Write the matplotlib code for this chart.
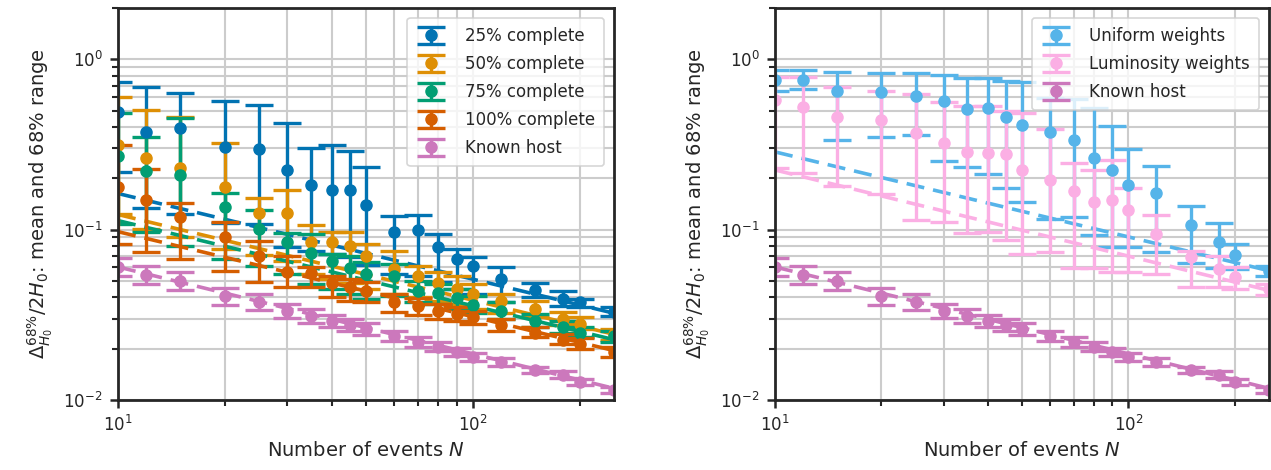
import numpy as np
import matplotlib
matplotlib.use("Agg")
import matplotlib.pyplot as plt

# ---------------- data ----------------
N = [10, 12, 15, 20, 25, 30, 35, 40, 45, 50, 60, 70, 80, 90, 100, 120, 150, 180, 200, 250]

# left panel: catalogue completeness
c25_mean = [0.490, 0.373, 0.396, 0.307, 0.299, 0.224, 0.183, 0.171, 0.171, 0.139,
            0.0969, 0.0990, 0.0790, 0.0668, 0.0615, 0.0513, 0.0443, 0.0394, 0.0375, 0.0329]
c25_lo = [0.217, 0.134, 0.123, 0.110, 0.1075, 0.0793, 0.0751, 0.0721, 0.0692, 0.0621,
          0.0549, 0.0537, 0.0492, 0.0448, 0.0418, 0.0375, 0.0401, 0.0357, 0.0350, 0.0310]
c25_hi = [0.731, 0.683, 0.638, 0.570, 0.540, 0.424, 0.302, 0.315, 0.291, 0.232,
          0.1205, 0.1216, 0.0947, 0.0765, 0.0690, 0.0602, 0.0486, 0.0437, 0.0391, 0.0350]

c50_mean = [0.315, 0.263, 0.230, 0.177, 0.126, 0.126, 0.0849, 0.0849, 0.0804, 0.0702,
            0.0588, 0.0534, 0.0486, 0.0448, 0.0418, 0.0380, 0.0341, 0.0297, 0.0278, 0.0243]
c50_lo = [0.123, 0.1014, 0.0910, 0.0772, 0.0711, 0.0656, 0.0549, 0.0513, 0.0486, 0.0448,
          0.0418, 0.0401, 0.0380, 0.0365, 0.0341, 0.0323, 0.0306, 0.0274, 0.0260, 0.0226]
c50_hi = [0.604, 0.506, 0.460, 0.323, 0.153, 0.170, 0.106, 0.0973, 0.0973, 0.0826,
          0.0751, 0.0612, 0.0564, 0.0534, 0.0479, 0.0418, 0.0380, 0.0327, 0.0306, 0.0260]

c75_mean = [0.270, 0.220, 0.209, 0.135, 0.1014, 0.0849, 0.0731, 0.0656, 0.0596, 0.0549,
            0.0534, 0.0436, 0.0424, 0.0396, 0.0360, 0.0332, 0.0290, 0.0267, 0.0249, 0.0236]
c75_lo = [0.1086, 0.0973, 0.0804, 0.0674, 0.0612, 0.0549, 0.0479, 0.0448, 0.0418, 0.0391,
          0.0407, 0.0375, 0.0365, 0.0341, 0.0323, 0.0297, 0.0267, 0.0249, 0.0233, 0.0220]
c75_hi = [0.486, 0.350, 0.454, 0.163, 0.131, 0.0960, 0.0947, 0.0721, 0.0702, 0.0647,
          0.0629, 0.0499, 0.0479, 0.0448, 0.0407, 0.0375, 0.0318, 0.0290, 0.0270, 0.0253]

c100_mean = [0.177, 0.149, 0.1194, 0.0910, 0.0702, 0.0564, 0.0557, 0.0486, 0.0460, 0.0436,
             0.0375, 0.0355, 0.0332, 0.0318, 0.0306, 0.0274, 0.0249, 0.0226, 0.0214, 0.0192]
c100_lo = [0.0826, 0.0741, 0.0674, 0.0572, 0.0492, 0.0460, 0.0460, 0.0401, 0.0380, 0.0375,
           0.0327, 0.0314, 0.0297, 0.0290, 0.0278, 0.0253, 0.0233, 0.0212, 0.0200, 0.0180]
c100_hi = [0.314, 0.2265, 0.1425, 0.1115, 0.0861, 0.0702, 0.0604, 0.0534, 0.0513, 0.0492,
           0.0418, 0.0396, 0.0365, 0.0350, 0.0332, 0.0297, 0.0267, 0.0243, 0.0230, 0.0206]

host_mean = [0.0604, 0.0542, 0.0499, 0.0407, 0.0375, 0.0332, 0.0310, 0.0290, 0.0274, 0.0260,
             0.0236, 0.0220, 0.0206, 0.0192, 0.0180, 0.0168, 0.0151, 0.0141, 0.0128, 0.0115]
host_lo = [0.0534, 0.0479, 0.0441, 0.0362, 0.0336, 0.0302, 0.0282, 0.0267, 0.0253, 0.0240,
           0.0221, 0.0206, 0.0193, 0.0182, 0.0170, 0.0159, 0.0145, 0.0135, 0.0123, 0.0110]
host_hi = [0.0683, 0.0613, 0.0564, 0.0457, 0.0418, 0.0365, 0.0341, 0.0315, 0.0297, 0.0282,
           0.0253, 0.0235, 0.0220, 0.0203, 0.0190, 0.0177, 0.0157, 0.0147, 0.0133, 0.0120]

# right panel: galaxy weighting
uni_mean = [0.754, 0.754, 0.653, 0.640, 0.612, 0.570, 0.513, 0.515, 0.460, 0.414,
            0.375, 0.338, 0.263, 0.224, 0.183, 0.163, 0.106, 0.0846, 0.0711, 0.0574]
uni_lo = [0.653, 0.667, 0.336, 0.352, 0.357, 0.252, 0.232, 0.2115, 0.1766, 0.146,
          0.1162, 0.1194, 0.0925, 0.0796, 0.0796, 0.0738, 0.0638, 0.0596, 0.0588, 0.0537]
uni_hi = [0.869, 0.869, 0.846, 0.834, 0.826, 0.812, 0.772, 0.772, 0.748, 0.731,
          0.596, 0.582, 0.515, 0.405, 0.299, 0.235, 0.1374, 0.1096, 0.0826, 0.0615]

lum_mean = [0.574, 0.525, 0.458, 0.441, 0.370, 0.323, 0.284, 0.283, 0.279, 0.224,
            0.196, 0.1694, 0.146, 0.149, 0.130, 0.0938, 0.0690, 0.0588, 0.0525, 0.0448]
lum_lo = [0.230, 0.2145, 0.1797, 0.161, 0.114, 0.111, 0.0960, 0.0969, 0.0865, 0.0721,
          0.0738, 0.0593, 0.0593, 0.0562, 0.0562, 0.0549, 0.0462, 0.0460, 0.0448, 0.0412]
lum_hi = [0.782, 0.782, 0.689, 0.653, 0.623, 0.564, 0.532, 0.532, 0.499, 0.486,
          0.392, 0.246, 0.224, 0.257, 0.175, 0.1216, 0.0748, 0.0705, 0.0602, 0.0479]

# dashed power-law fits (values at N = 10 and N = 250)
fit_N = [10, 250]
fit_c25 = [0.163, 0.0323]
fit_c50 = [0.1227, 0.0243]
fit_c75 = [0.113, 0.0226]
fit_c100 = [0.0973, 0.0195]
fit_host = [0.0604, 0.0117]
fit_uni = [0.286, 0.0574]
fit_lum = [0.224, 0.0440]

labels_left = ["25% complete", "50% complete", "75% complete", "100% complete", "Known host"]
labels_right = ["Uniform weights", "Luminosity weights", "Known host"]

# ---------------- style ----------------
plt.rcParams.update({
    "font.family": "DejaVu Sans",
    "mathtext.fontset": "dejavusans",
    "axes.edgecolor": "#262626",
    "axes.linewidth": 2.0,
    "xtick.color": "#262626",
    "ytick.color": "#262626",
    "text.color": "#262626",
    "axes.labelcolor": "#262626",
    "xtick.direction": "out",
    "ytick.direction": "out",
    "xtick.major.size": 6, "ytick.major.size": 6,
    "xtick.minor.size": 4, "ytick.minor.size": 4,
    "xtick.major.width": 1.8, "ytick.major.width": 1.8,
    "xtick.minor.width": 1.5, "ytick.minor.width": 1.5,
    "xtick.labelsize": 12, "ytick.labelsize": 12,
    "axes.labelsize": 14,
})

C_BLUE = "#0173b2"
C_ORANGE = "#de8f05"
C_GREEN = "#029e73"
C_VERM = "#d55e00"
C_HOST = "#cc78bc"
C_SKY = "#56b4e9"
C_PINK = "#fbafe4"

fig = plt.figure(figsize=(12.71, 4.70), dpi=100)
W, H = 1271.0, 470.0
ax1 = fig.add_axes([118 / W, 1 - 400 / H, (614 - 118) / W, (400 - 8) / H])
ax2 = fig.add_axes([775 / W, 1 - 400 / H, (1269 - 775) / W, (400 - 8) / H])

eb_kw = dict(fmt="o", markersize=8, elinewidth=2.4, capsize=10, capthick=2.4)
dash_kw = dict(lw=2.6, linestyle=(0, (5, 2.5)))


def draw(ax, mean, lo, hi, fit, color, label):
    mean = np.asarray(mean)
    yerr = [mean - np.asarray(lo), np.asarray(hi) - mean]
    ax.errorbar(N, mean, yerr=yerr, color=color, label=label, **eb_kw)
    ax.plot(fit_N, fit, color=color, **dash_kw)


draw(ax1, c25_mean, c25_lo, c25_hi, fit_c25, C_BLUE, labels_left[0])
draw(ax1, c50_mean, c50_lo, c50_hi, fit_c50, C_ORANGE, labels_left[1])
draw(ax1, c75_mean, c75_lo, c75_hi, fit_c75, C_GREEN, labels_left[2])
draw(ax1, c100_mean, c100_lo, c100_hi, fit_c100, C_VERM, labels_left[3])
draw(ax1, host_mean, host_lo, host_hi, fit_host, C_HOST, labels_left[4])

draw(ax2, uni_mean, uni_lo, uni_hi, fit_uni, C_SKY, labels_right[0])
draw(ax2, lum_mean, lum_lo, lum_hi, fit_lum, C_PINK, labels_right[1])
draw(ax2, host_mean, host_lo, host_hi, fit_host, C_HOST, labels_right[2])

ylabel = r"$\Delta^{68\%}_{H_0}/2H_0$: mean and 68% range"
for ax in (ax1, ax2):
    ax.set_xscale("log")
    ax.set_yscale("log")
    ax.set_xlim(10, 250)
    ax.set_ylim(0.01, 2.0)
    ax.grid(True, which="both", color="#cccccc", lw=1.5)
    ax.set_axisbelow(True)
    ax.set_xlabel(r"Number of events $N$", labelpad=4)
    ax.set_ylabel(ylabel, labelpad=6)
    ax.tick_params(axis="both", which="major", pad=5)
    leg = ax.legend(loc="upper right", fontsize=12, labelspacing=0.6,
                    handlelength=1.8, handletextpad=1.1, borderpad=0.55,
                    framealpha=0.8, edgecolor="#cccccc", fancybox=True,
                    borderaxespad=0.6)
    leg.get_frame().set_linewidth(1.2)

fig.savefig("out.png", dpi=100)
